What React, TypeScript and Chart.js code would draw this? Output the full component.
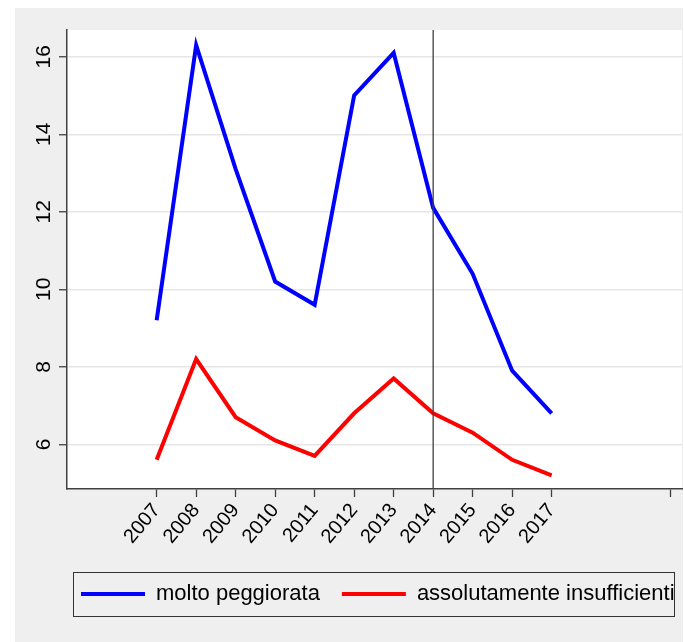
import React, { useEffect, useRef } from "react";
import { Chart, registerables } from "chart.js";

Chart.register(...registerables);

const YEARS = [2007, 2008, 2009, 2010, 2011, 2012, 2013, 2014, 2015, 2016, 2017];
const MOLTO_PEGGIORATA = [9.2, 16.3, 13.1, 10.2, 9.6, 15.0, 16.1, 12.1, 10.4, 7.9, 6.8];
const ASSOLUTAMENTE_INSUFFICIENTI = [5.6, 8.2, 6.7, 6.1, 5.7, 6.8, 7.7, 6.8, 6.3, 5.6, 5.2];
const X_TICKS = [2007, 2008, 2009, 2010, 2011, 2012, 2013, 2014, 2015, 2016, 2017, 2020];
const X_TICK_LABELS = ["2007", "2008", "2009", "2010", "2011", "2012", "2013", "2014", "2015", "2016", "2017", ""];
const Y_TICKS = [6, 8, 10, 12, 14, 16];
const MARKER_YEAR = 2014;
const SERIES_NAMES = ["molto peggiorata", "assolutamente insufficienti"];

const FONT = "'Liberation Sans', Arial, Helvetica, sans-serif";
const AXIS_COLOR = "#404040";
const LEGEND_PADDING = 22;

const backgroundPlugin = {
  id: "bg",
  beforeDraw(chart: any) {
    const { ctx, chartArea } = chart;
    ctx.save();
    ctx.fillStyle = "#ffffff";
    ctx.fillRect(0, 0, chart.width, chart.height);
    ctx.fillStyle = "#efefef";
    ctx.fillRect(15, 8, 668, 634);
    ctx.fillStyle = "#ffffff";
    ctx.fillRect(chartArea.left, chartArea.top, chartArea.right - chartArea.left, chartArea.bottom - chartArea.top);
    ctx.restore();
  },
};

// keep the legend on one row even if it slightly exceeds the plot width
const legendOneRowPlugin = {
  id: "legendOneRow",
  beforeLayout(chart: any) {
    const lg = chart.legend;
    if (lg && !lg.__oneRow) {
      const orig = lg.fit.bind(lg);
      lg.fit = function () {
        const mw = this.maxWidth;
        this.maxWidth = mw + 200;
        orig();
        this.maxWidth = mw;
        this.width = Math.min(this.width, mw);
      };
      lg.__oneRow = true;
    }
  },
  afterLayout(chart: any) {
    const lg = chart.legend;
    if (!lg) return;
    lg.left = chart.chartArea.left + 14 - LEGEND_PADDING;
    lg.right = lg.left + 800;
  },
};

const markerPlugin = {
  id: "marker",
  afterDatasetsDraw(chart: any) {
    const { ctx, chartArea, scales } = chart;
    const x = scales.x.getPixelForValue(MARKER_YEAR);
    ctx.save();
    ctx.strokeStyle = AXIS_COLOR;
    ctx.lineWidth = 1.3;
    ctx.beginPath();
    ctx.moveTo(x, chartArea.top);
    ctx.lineTo(x, chartArea.bottom);
    ctx.stroke();
    ctx.restore();
  },
};

const legendBoxPlugin = {
  id: "legendBox",
  afterDraw(chart: any) {
    const legend = chart.legend;
    if (!legend || !legend.legendHitBoxes || !legend.legendHitBoxes.length) return;
    const hb = legend.legendHitBoxes;
    const first = hb[0];
    const last = hb[hb.length - 1];
    const cy = first.top + first.height / 2;
    const left = first.left - 8;
    const right = last.left + last.width - 1;
    const { ctx } = chart;
    ctx.save();
    ctx.strokeStyle = "#333333";
    ctx.lineWidth = 1;
    ctx.strokeRect(Math.round(left) + 0.5, Math.round(cy - 22) + 0.5, Math.round(right - left), 44);
    ctx.restore();
  },
};

export default function App() {
  const canvasRef = useRef<HTMLCanvasElement | null>(null);

  useEffect(() => {
    if (!canvasRef.current) return;
    const chart = new Chart(canvasRef.current, {
      type: "line",
      data: {
        datasets: [
          {
            label: SERIES_NAMES[0],
            data: YEARS.map((y, i) => ({ x: y, y: MOLTO_PEGGIORATA[i] })),
            borderColor: "#0000ff",
            backgroundColor: "#0000ff",
            borderWidth: 4,
            pointRadius: 0,
            tension: 0,
          },
          {
            label: SERIES_NAMES[1],
            data: YEARS.map((y, i) => ({ x: y, y: ASSOLUTAMENTE_INSUFFICIENTI[i] })),
            borderColor: "#ff0000",
            backgroundColor: "#ff0000",
            borderWidth: 4,
            pointRadius: 0,
            tension: 0,
          },
        ],
      },
      options: {
        animation: false,
        responsive: false,
        layout: { padding: { left: 0, top: 30, right: 2, bottom: 27 } },
        plugins: {
          tooltip: { enabled: false },
          legend: {
            position: "bottom",
            fullSize: false,
            align: "start",
            labels: {
              usePointStyle: true,
              pointStyle: "line",
              pointStyleWidth: 64,
              padding: LEGEND_PADDING,
              color: "#000000",
              font: { family: FONT, size: 22 },
            },
          },
        },
        scales: {
          x: {
            type: "linear",
            min: 2004.73,
            max: 2020.3,
            afterBuildTicks(scale: any) {
              scale.ticks = X_TICKS.map((v) => ({ value: v }));
            },
            afterFit(scale: any) {
              scale.height = 72;
              scale.paddingLeft = 0;
              scale.paddingRight = 0;
            },
            grid: {
              display: true,
              drawOnChartArea: false,
              drawTicks: true,
              tickLength: 8,
              tickColor: AXIS_COLOR,
              tickWidth: 1.3,
            },
            border: { display: true, color: AXIS_COLOR, width: 1.5 },
            ticks: {
              autoSkip: false,
              minRotation: 50,
              maxRotation: 50,
              padding: 2,
              color: "#000000",
              font: { family: FONT, size: 20 },
              callback: (_v: any, i: number) => X_TICK_LABELS[i],
            },
          },
          y: {
            type: "linear",
            min: 4.847,
            max: 16.69,
            afterBuildTicks(scale: any) {
              scale.ticks = Y_TICKS.map((v) => ({ value: v }));
            },
            afterFit(scale: any) {
              scale.width = 67;
              scale.paddingTop = 0;
              scale.paddingBottom = 0;
            },
            grid: {
              display: true,
              drawOnChartArea: true,
              drawTicks: true,
              tickLength: 8,
              color: "#e6e6e6",
              lineWidth: 1.5,
              tickColor: AXIS_COLOR,
              tickWidth: 1.3,
            },
            border: { display: true, color: AXIS_COLOR, width: 1.5 },
            ticks: {
              minRotation: 90,
              maxRotation: 90,
              crossAlign: "center",
              padding: 3,
              color: "#000000",
              font: { family: FONT, size: 21 },
              callback: (v: any) => String(v),
            },
          },
        },
      },
      plugins: [backgroundPlugin, legendOneRowPlugin, markerPlugin, legendBoxPlugin],
    } as any);
    return () => chart.destroy();
  }, []);

  return (
    <div style={{ position: "absolute", left: 0, top: 0, width: 684, height: 642 }}>
      <canvas ref={canvasRef} width={684} height={642} style={{ display: "block" }} />
    </div>
  );
}
